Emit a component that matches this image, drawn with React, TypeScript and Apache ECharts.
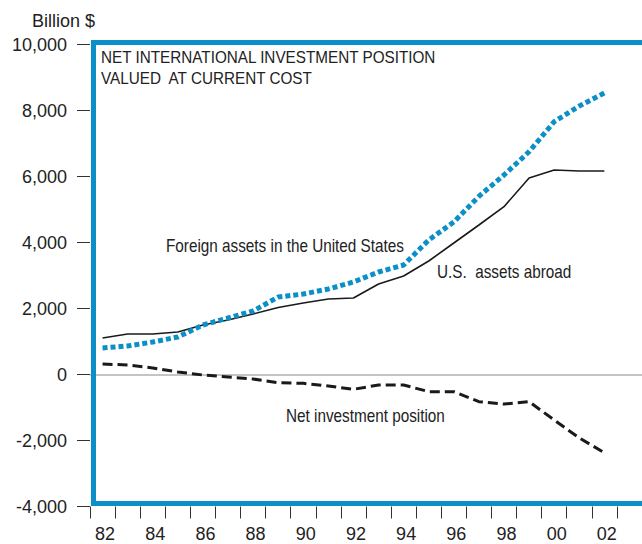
import React, { useEffect, useRef } from "react";
import * as echarts from "echarts";

const years = [
  "1982", "1983", "1984", "1985", "1986", "1987", "1988", "1989", "1990", "1991",
  "1992", "1993", "1994", "1995", "1996", "1997", "1998", "1999", "2000", "2001",
  "2002", "2003",
];

const usAssetsAbroad = [
  1106, 1227, 1227, 1288, 1500, 1650, 1833, 2030, 2166, 2288,
  2318, 2742, 2985, 3439, 3985, 4530, 5085, 5954, 6197, 6167,
  6167, null,
];

const foreignAssetsInUS = [
  803, 864, 985, 1136, 1500, 1712, 1924, 2348, 2439, 2590,
  2803, 3106, 3318, 4076, 4621, 5400, 6045, 6752, 7661, 8136,
  8530, null,
];

const netPosition = [
  318, 288, 197, 76, -15, -76, -136, -248, -267, -348,
  -449, -318, -318, -520, -520, -824, -894, -824, -1379, -1924,
  -2370, null,
];

const yTicks = { min: -4000, max: 10000, interval: 2000 };

const titleLines = ["NET INTERNATIONAL INVESTMENT POSITION", "VALUED  AT CURRENT COST"];
const seriesLabels = {
  foreign: "Foreign assets in the United States",
  us: "U.S.  assets abroad",
  net: "Net investment position",
};

const BLUE = "#0b8fc8";
const INK = "#222222";
const FONT = "'Liberation Sans', Arial, Helvetica, sans-serif";

export default function App() {
  const ref = useRef<HTMLDivElement>(null);

  useEffect(() => {
    if (!ref.current) return;
    const chart = echarts.init(ref.current, null, { renderer: "svg" });

    const txt = (text: string, x: number, y: number, size: number, sx: number) => ({
      type: "text",
      x,
      y,
      scaleX: sx,
      z: 100,
      style: {
        text,
        x: 0,
        y: 0,
        font: `${size}px ${FONT}`,
        fill: INK,
        textAlign: "left",
        textVerticalAlign: "middle",
        align: "left",
        verticalAlign: "middle",
      },
    });

    chart.setOption({
      animation: false,
      backgroundColor: "#ffffff",
      grid: { left: 90, top: 44.5, bottom: 37.5, right: -4.6, containLabel: false },
      xAxis: {
        type: "category",
        data: years,
        boundaryGap: true,
        axisLine: { show: false, onZero: false },
        axisTick: { show: true, interval: 0, length: 12, lineStyle: { color: "#333", width: 1 } },
        axisLabel: {
          interval: 1,
          margin: 18,
          fontSize: 18,
          fontFamily: FONT,
          color: INK,
          padding: [0, 0, 0, 5],
          formatter: (v: string) => v.slice(2),
        },
        splitLine: { show: false },
      },
      yAxis: {
        type: "value",
        min: yTicks.min,
        max: yTicks.max,
        interval: yTicks.interval,
        axisLine: { show: false },
        axisTick: { show: true, length: 13, lineStyle: { color: "#333", width: 1 } },
        axisLabel: {
          margin: 23,
          fontSize: 18,
          fontFamily: FONT,
          color: INK,
          formatter: (v: number) => v.toLocaleString("en-US"),
        },
        splitLine: { show: false },
      },
      series: [
        {
          name: "U.S. assets abroad",
          type: "line",
          data: usAssetsAbroad,
          showSymbol: false,
          symbol: "none",
          lineStyle: { color: "#1a1a1a", width: 1.6 },
          z: 3,
          markLine: {
            silent: true,
            symbol: "none",
            label: { show: false },
            lineStyle: { color: "#b0b0b0", width: 1.5, type: "solid" },
            data: [{ yAxis: 0 }],
            z: 1,
          },
        },
        {
          name: "Foreign assets in the United States",
          type: "line",
          data: foreignAssetsInUS,
          showSymbol: false,
          symbol: "none",
          lineStyle: { color: BLUE, width: 5, type: [5, 3], cap: "butt" },
          z: 4,
        },
        {
          name: "Net investment position",
          type: "line",
          data: netPosition,
          showSymbol: false,
          symbol: "none",
          lineStyle: { color: "#1a1a1a", width: 3, type: [10, 5], cap: "butt" },
          z: 3,
        },
      ],
      graphic: [
        {
          type: "rect",
          z: 50,
          shape: { x: 93.5, y: 42.5, width: 600, height: 461 },
          style: { fill: "none", stroke: BLUE, lineWidth: 5 },
          silent: true,
        },
        txt("Billion $", 32, 21, 18, 1),
        txt(titleLines[0], 101, 57.5, 16, 0.955),
        txt(titleLines[1], 101, 78.5, 16, 0.955),
        txt(seriesLabels.foreign, 166, 246, 18, 0.85),
        txt(seriesLabels.us, 437, 272, 18, 0.85),
        txt(seriesLabels.net, 286, 416, 18, 0.85),
      ],
    });

    return () => chart.dispose();
  }, []);

  return <div ref={ref} style={{ width: 642, height: 544, position: "absolute", left: 0, top: 0 }} />;
}
